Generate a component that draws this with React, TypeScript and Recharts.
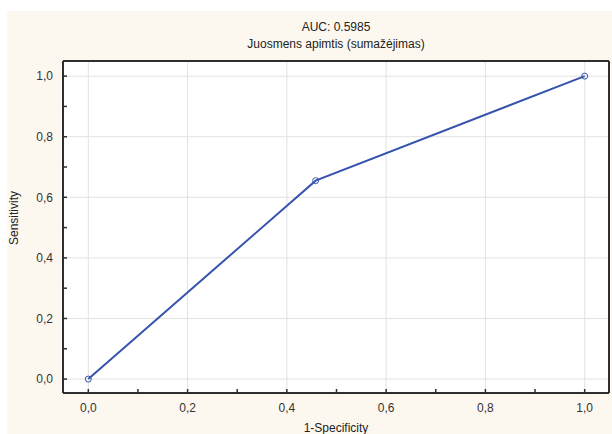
import React from "react";
import { Line, LineChart, ReferenceArea, ReferenceLine, XAxis, YAxis } from "recharts";

// ROC-Kurve: (1-Specificity, Sensitivity)
const FPR = [0, 0.458, 1];
const TPR = [0, 0.655, 1];

const AXIS_TICKS = [0, 0.1, 0.2, 0.3, 0.4, 0.5, 0.6, 0.7, 0.8, 0.9, 1.0];
const MAJOR_TICKS = [0, 0.2, 0.4, 0.6, 0.8, 1.0];
// top/right frame ticks are on their own scale (Statistica style)
const FRAME_TICKS = [1, 2, 3, 4, 5, 6, 7, 8, 9, 10, 11, 12, 13];

const X_DOMAIN = [-0.051, 1.049];
const Y_DOMAIN = [-0.046, 1.05];

const TITLE = "AUC: 0.5985";
const SUBTITLE = "Juosmens apimtis (sumažėjimas)";
const X_LABEL = "1-Specificity";
const Y_LABEL = "Sensitivity";

const LINE_COLOR = "#3553ad";
const FRAME_COLOR = "#2e2e2e";
const GRID_COLOR = "#e2e2e2";
const FONT = '"Liberation Sans", Arial, sans-serif';

const data = FPR.map((x, i) => ({ x, y: TPR[i] }));

/** "0,2" style labels, only on the major ticks. */
function tickLabel(v: number): string {
  return MAJOR_TICKS.some((m) => Math.abs(m - v) < 1e-9) ? v.toFixed(1).replace(".", ",") : "";
}

function SideLabel({ viewBox }: any) {
  const vb = viewBox ?? { x: 13, y: 61, width: 50, height: 332 };
  const cx = vb.x + 1;
  const cy = vb.y + vb.height / 2 - 9;
  return (
    <text
      x={cx}
      y={cy}
      transform={`rotate(-90 ${cx} ${cy})`}
      textAnchor="middle"
      dominantBaseline="central"
      fill="#222"
      fontSize={12}
      fontFamily={FONT}
    >
      {Y_LABEL}
    </text>
  );
}

const tickStyle = { fill: "#333", fontSize: 12, fontFamily: FONT };
const axisLine = { stroke: FRAME_COLOR, strokeWidth: 2 };
const tickLine = { stroke: FRAME_COLOR, strokeWidth: 1.5 };

export default function App() {
  return (
    <div
      style={{
        position: "absolute",
        left: 0,
        top: 0,
        width: 612,
        height: 434,
        background: "#fff",
        fontFamily: FONT,
        overflow: "hidden",
      }}
    >
      <div style={{ position: "absolute", left: 7, top: 11, width: 605, height: 423, background: "#fdf8ef" }} />
      <div
        style={{
          position: "absolute",
          left: 63,
          width: 546,
          top: 19,
          textAlign: "center",
          fontSize: 12,
          lineHeight: "17px",
          color: "#222",
        }}
      >
        <div>{TITLE}</div>
        <div>{SUBTITLE}</div>
      </div>
      <div style={{ position: "absolute", left: 0, top: 0 }}>
        <LineChart width={612} height={434} data={data} margin={{ top: 60, right: 2, left: 13, bottom: 11 }}>
          <ReferenceArea
            x1={X_DOMAIN[0]}
            x2={X_DOMAIN[1]}
            y1={Y_DOMAIN[0]}
            y2={Y_DOMAIN[1]}
            fill="#fff"
            fillOpacity={1}
            stroke="none"
          />
          {MAJOR_TICKS.map((v) => (
            <ReferenceLine key={`gx${v}`} x={v} stroke={GRID_COLOR} strokeWidth={1} ifOverflow="visible" />
          ))}
          {MAJOR_TICKS.map((v) => (
            <ReferenceLine key={`gy${v}`} y={v} stroke={GRID_COLOR} strokeWidth={1} ifOverflow="visible" />
          ))}
          <XAxis
            dataKey="x"
            type="number"
            domain={X_DOMAIN}
            allowDataOverflow
            ticks={AXIS_TICKS}
            interval={0}
            tickFormatter={tickLabel}
            tick={tickStyle}
            tickSize={-4}
            tickMargin={14}
            axisLine={axisLine}
            tickLine={tickLine}
            height={30}
            label={{ value: X_LABEL, position: "bottom", offset: 0, fill: "#222", fontSize: 12, fontFamily: FONT }}
          />
          <XAxis
            xAxisId="top"
            orientation="top"
            type="number"
            domain={[0, 14]}
            ticks={FRAME_TICKS}
            interval={0}
            tick={false}
            tickSize={-4}
            axisLine={axisLine}
            tickLine={tickLine}
            height={1}
          />
          <YAxis
            dataKey="y"
            type="number"
            domain={Y_DOMAIN}
            allowDataOverflow
            ticks={AXIS_TICKS}
            interval={0}
            tickFormatter={tickLabel}
            tick={tickStyle}
            tickSize={-4}
            tickMargin={14}
            axisLine={axisLine}
            tickLine={tickLine}
            width={50}
            label={<SideLabel />}
          />
          <YAxis
            yAxisId="right"
            orientation="right"
            type="number"
            domain={[0, 14]}
            ticks={FRAME_TICKS}
            interval={0}
            tick={false}
            tickSize={-4}
            axisLine={axisLine}
            tickLine={tickLine}
            width={1}
          />
          <Line
            type="linear"
            dataKey="y"
            stroke={LINE_COLOR}
            strokeWidth={2}
            dot={{ r: 3, stroke: LINE_COLOR, strokeWidth: 1, fill: "none" }}
            activeDot={false}
            isAnimationActive={false}
          />
        </LineChart>
      </div>
    </div>
  );
}
